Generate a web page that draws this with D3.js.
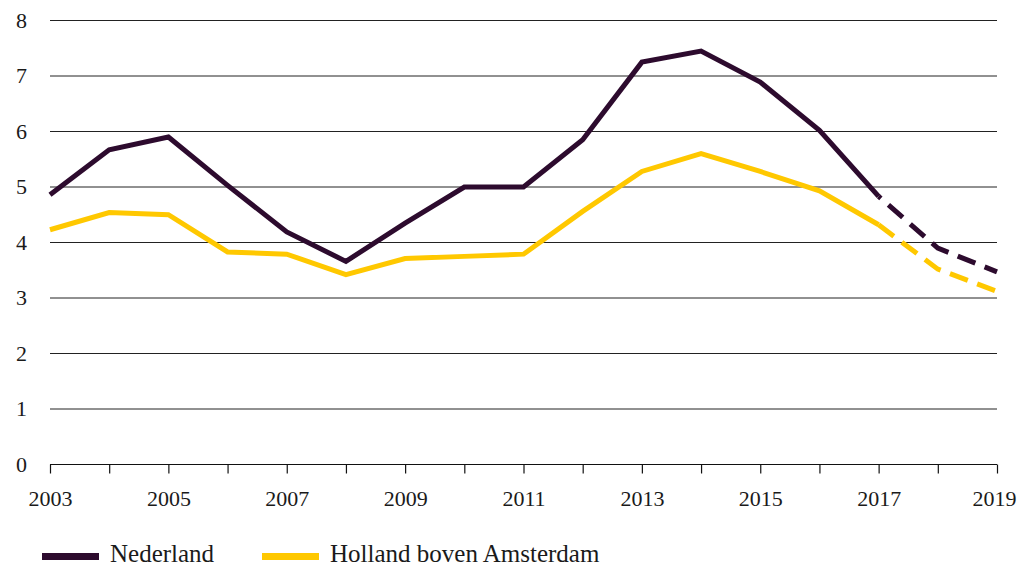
<!DOCTYPE html>
<html>
<head>
<meta charset="utf-8">
<script src="https://cdn.jsdelivr.net/npm/d3@7"></script>
<style>
  html, body { margin: 0; padding: 0; background: #fff; }
  svg { display: block; }
  text { font-family: "Liberation Serif", "DejaVu Serif", serif; fill: #1a1a1a; }
</style>
</head>
<body>
<svg id="chart" width="1018" height="568"></svg>
<script>
const years = [2003,2004,2005,2006,2007,2008,2009,2010,2011,2012,2013,2014,2015,2016,2017,2018,2019];
const nederland = [4.86,5.67,5.9,5.03,4.19,3.66,4.35,5.0,5.0,5.85,7.25,7.45,6.89,6.02,4.83,3.9,3.47];
const hollandBovenAmsterdam = [4.23,4.54,4.5,3.83,3.79,3.42,3.71,3.75,3.79,4.56,5.28,5.6,5.28,4.93,4.32,3.52,3.12];
const forecastFrom = 2017;
const yTicks = [0,1,2,3,4,5,6,7,8];
const xTickLabels = [2003,2005,2007,2009,2011,2013,2015,2017,2019];
const seriesNames = ["Nederland", "Holland boven Amsterdam"];
const seriesColors = ["#2d0b2e", "#ffc800"];

const svg = d3.select("#chart");
const x = d3.scaleLinear().domain([2003, 2019]).range([50, 997]);
const y = d3.scaleLinear().domain([0, 8]).range([464.5, 20.5]);

// gridlines
svg.append("g").selectAll("line")
  .data(yTicks.filter(d => d > 0))
  .join("line")
  .attr("x1", x(2003)).attr("x2", x(2019))
  .attr("y1", d => y(d)).attr("y2", d => y(d))
  .attr("stroke", "#222").attr("stroke-width", 1);

// y labels
svg.append("g").selectAll("text")
  .data(yTicks)
  .join("text")
  .attr("x", 27).attr("y", d => y(d))
  .attr("dy", "0.33em")
  .attr("text-anchor", "end")
  .attr("font-size", 22)
  .text(d => d);

// x axis
const xAxis = d3.axisBottom(x)
  .tickValues(years)
  .tickSize(9)
  .tickFormat(d => xTickLabels.includes(d) ? String(d) : "");
const gx = svg.append("g").attr("transform", `translate(0,${y(0)})`).call(xAxis);
gx.select(".domain").attr("stroke", "#111").attr("stroke-width", 1.2)
  .attr("d", `M${x(2003)},0H${x(2019)}`);
gx.selectAll(".tick line").attr("stroke", "#111").attr("stroke-width", 1.2);
gx.selectAll(".tick text")
  .attr("font-family", "Liberation Serif, DejaVu Serif, serif")
  .attr("font-size", 22)
  .attr("fill", "#1a1a1a")
  .attr("y", 26)
  .attr("dx", d => d === 2019 ? -3 : 0);

// lines
const line = d3.line().x(d => x(d.year)).y(d => y(d.value));
[nederland, hollandBovenAmsterdam].forEach((vals, i) => {
  const pts = years.map((yr, j) => ({year: yr, value: vals[j]}));
  const solid = pts.filter(p => p.year <= forecastFrom);
  const dashed = pts.filter(p => p.year >= forecastFrom);
  svg.append("path").datum(solid)
    .attr("d", line).attr("fill", "none")
    .attr("stroke", seriesColors[i]).attr("stroke-width", 5);
  svg.append("path").datum(dashed)
    .attr("d", line).attr("fill", "none")
    .attr("stroke", seriesColors[i]).attr("stroke-width", 5)
    .attr("stroke-dasharray", "19,10")
    .attr("stroke-dashoffset", i === 0 ? 16 : 0);
});

// legend
const legendX = [42, 262];
const lg = svg.append("g");
seriesNames.forEach((name, i) => {
  lg.append("rect")
    .attr("x", legendX[i]).attr("y", 553)
    .attr("width", 57).attr("height", 7)
    .attr("fill", seriesColors[i]);
  lg.append("text")
    .attr("x", legendX[i] + 68).attr("y", 562)
    .attr("font-size", 25)
    .text(name);
});
</script>
</body>
</html>
